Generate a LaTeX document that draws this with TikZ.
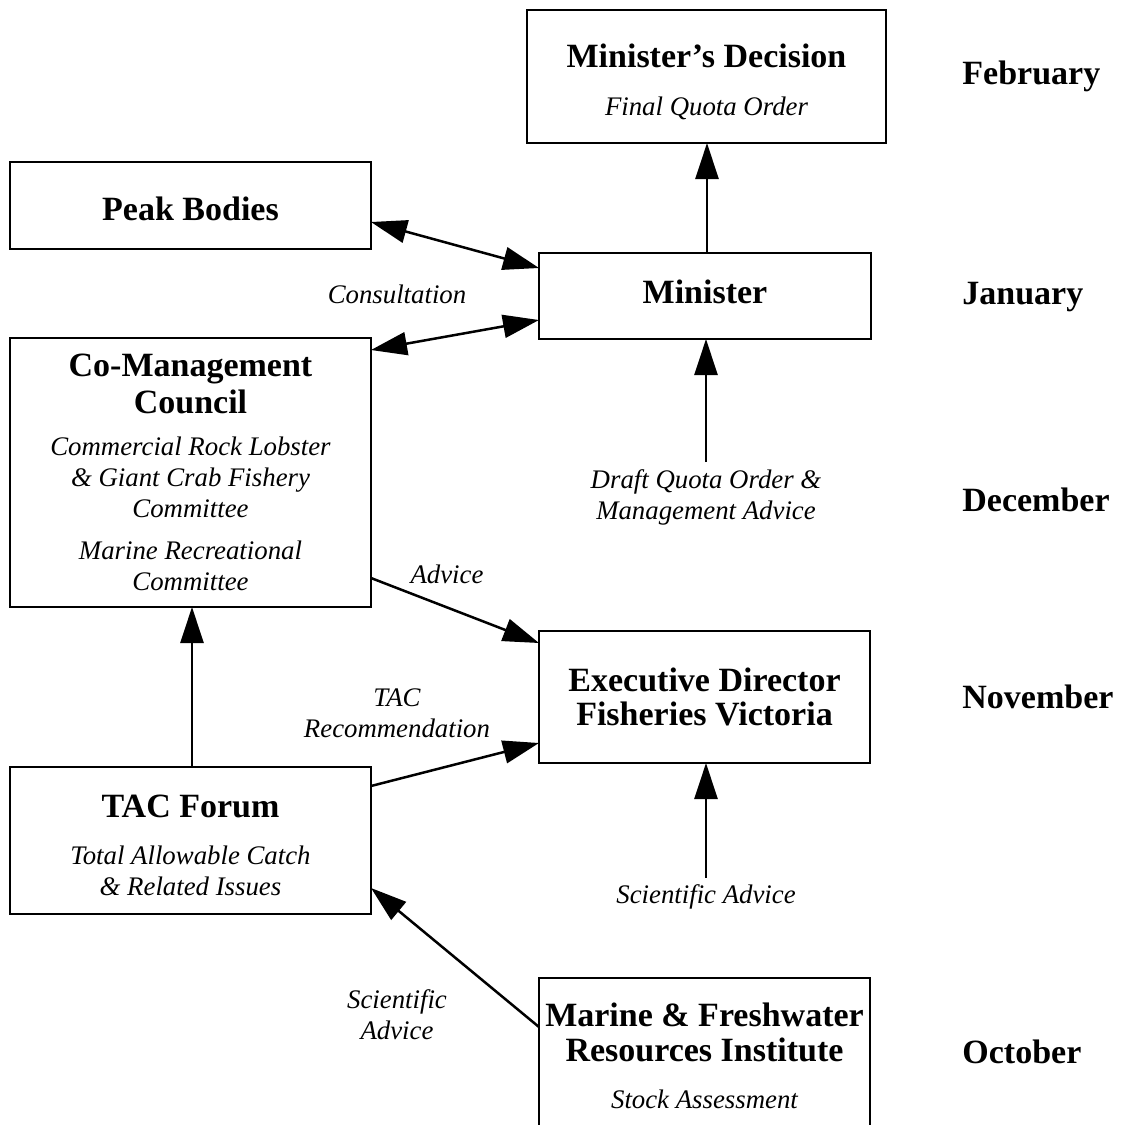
\documentclass[tikz,border=0pt]{standalone}
\usepackage{fontspec}
\setmainfont{Liberation Serif}
\usetikzlibrary{arrows.meta,calc}
\newcommand\tfont{\fontsize{17}{18}\selectfont\upshape\bfseries}
\newcommand\ifont{\fontsize{13.4}{15.5}\selectfont\mdseries\itshape}
\tikzset{
  box/.style={draw, line width=1.25pt, inner sep=0pt, outer sep=0pt, align=center, font=\ifont},
  lbl/.style={align=center, font=\ifont},
  month/.style={anchor=west, inner sep=0pt, font=\tfont},
  arr/.style={line width=1.25pt, -{Triangle[length=18pt,width=11.5pt]}},
  darr/.style={line width=1.25pt, {Triangle[length=18pt,width=11.5pt]}-{Triangle[length=18pt,width=11.5pt]}}
}
\begin{document}
\begin{tikzpicture}[x=0.5pt,y=-0.5pt]
\useasboundingbox (0,0) rectangle (1129,1124);
\clip (0,0) rectangle (1129,1124);

\node[box, minimum width=179.5pt, minimum height=66.5pt] (dec) at (706.5,76.5)
  {{\tfont\rule{0pt}{17.5pt}Minister's Decision}\\[8.5pt]Final Quota Order};
\node[box, minimum width=180.5pt, minimum height=43.5pt] (peak) at (190.5,205.5)
  {\tfont\rule{0pt}{15.5pt}Peak Bodies};
\node[box, minimum width=166pt, minimum height=43pt] (min) at (705,296)
  {\tfont\rule[-4pt]{0pt}{4pt}Minister};
\node[box, minimum width=180.5pt, minimum height=134.5pt] (coman) at (190.5,472.5)
  {{\tfont Co-Management}\\[2pt]{\tfont Council}\\[5.5pt]Commercial Rock Lobster\\\& Giant Crab Fishery\\Committee\\[5.5pt]Marine Recreational\\Committee};
\node[box, minimum width=165.5pt, minimum height=66pt] (exec) at (704.5,697)
  {{\tfont Executive Director}\\[1.5pt]{\tfont Fisheries Victoria}};
\node[box, minimum width=180.5pt, minimum height=73.5pt] (tac) at (190.5,840.5)
  {{\tfont\rule{0pt}{16.25pt}TAC Forum}\\[8pt]Total Allowable Catch\\\& Related Issues};
\node[box, minimum width=165.5pt, minimum height=78pt] (mafri) at (704.5,1056)
  {{\tfont Marine \& Freshwater}\\[2pt]{\tfont Resources Institute}\\[8pt]Stock Assessment};

\node[lbl] (consult) at (397,294) {Consultation};
\node[lbl] (draft) at (706,497) {Draft Quota Order \&\\Management Advice};
\node[lbl] (advice) at (447,574) {Advice};
\node[lbl] (tacrec) at (397,713) {TAC\\Recommendation};
\node[lbl] (scir) at (706,897) {Scientific Advice};
\node[lbl] (scil) at (397,1015) {Scientific\\Advice};

\node[month] (feb) at (962,76) {February};
\node[month] (jan) at (962,297) {January};
\node[month] (decm) at (962,500) {December};
\node[month] (nov) at (962,697) {November};
\node[month] (oct) at (962,1052) {October};

\draw[arr] (min.north -| 707,0) -- (dec.south -| 707,0);
\draw[darr] ($(peak.east)+(0,16.5)$) -- ($(min.west)+(0,-28)$);
\draw[darr] ($(coman.east)+(0,-122.5)$) -- ($(min.west)+(0,24)$);
\draw[arr] (draft.north) -- (draft.north |- min.south);
\draw[arr] ($(coman.east)+(0,105.5)$) -- ($(exec.west)+(0,-54)$);
\draw[arr] ($(tac.east)+(0,-54.5)$) -- ($(exec.west)+(0,46)$);
\draw[arr] (tac.north -| 192,0) -- (coman.south -| 192,0);
\draw[arr] (scir.north) -- (scir.north |- exec.south);
\draw[arr] ($(mafri.west)+(0,-29)$) -- ($(tac.east)+(0,47.5)$);
\end{tikzpicture}
\end{document}
